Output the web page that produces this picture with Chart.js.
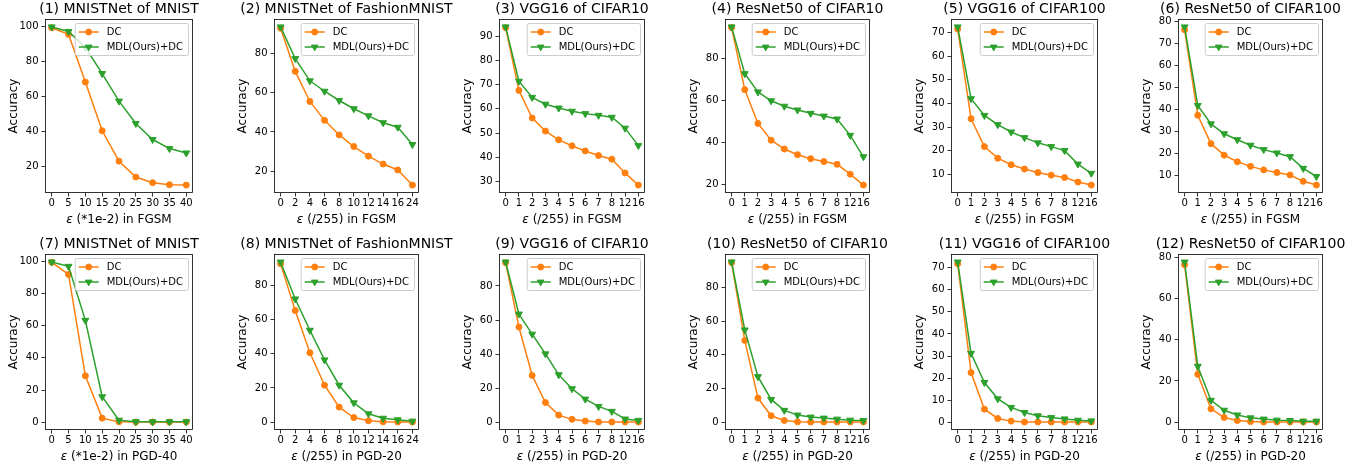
<!DOCTYPE html>
<html>
<head>
<meta charset="utf-8">
<script src="https://cdn.jsdelivr.net/npm/chart.js@4.4.1/dist/chart.umd.min.js"></script>
<style>
  body { margin: 0; background: #fff; width: 1367px; height: 470px; position: relative; overflow: hidden; }
  canvas { position: absolute; }
</style>
</head>
<body>
<script>
// x tick labels
var mnistEps  = ['0','5','10','15','20','25','30','35','40'];
var fmnistEps = ['0','2','4','6','8','10','12','14','16','24'];
var cifarEps  = ['0','1','2','3','4','5','6','7','8','12','16'];

// FGSM row
var p1DC  = [99.2, 95.4, 68.1, 40.2, 22.8, 13.7, 10.5, 9.3, 9.1];
var p1MDL = [99.7, 97.1, 88.0, 73.0, 57.2, 44.4, 35.2, 30.0, 27.5];
var p2DC  = [92.7, 70.8, 55.5, 45.9, 38.5, 32.6, 27.7, 23.7, 20.7, 13.0];
var p2MDL = [93.4, 77.3, 66.0, 60.7, 56.0, 51.8, 48.2, 44.7, 42.4, 33.6];
var p3DC  = [93.5, 67.6, 56.2, 50.8, 47.2, 44.7, 42.6, 40.7, 39.2, 33.5, 28.5];
var p3MDL = [93.8, 71.4, 64.7, 61.9, 60.3, 59.0, 58.0, 57.3, 56.5, 52.0, 44.8];
var p4DC  = [94.6, 65.0, 48.9, 40.9, 36.7, 34.0, 32.1, 30.7, 29.4, 24.7, 19.5];
var p4MDL = [94.9, 72.6, 63.9, 59.7, 57.1, 55.3, 53.7, 52.4, 51.0, 43.2, 33.0];
var p5DC  = [71.5, 33.5, 21.7, 16.8, 14.0, 12.2, 10.7, 9.6, 8.6, 6.7, 5.4];
var p5MDL = [72.4, 42.0, 34.9, 31.0, 27.9, 25.5, 23.3, 21.7, 20.0, 14.3, 10.4];
var p6DC  = [76.3, 37.5, 24.6, 19.4, 16.4, 14.3, 12.7, 11.5, 10.4, 7.5, 5.8];
var p6MDL = [77.6, 41.9, 33.6, 29.1, 26.4, 23.9, 21.9, 20.4, 18.7, 13.4, 9.7];

// PGD row
var p7DC   = [99.4, 91.9, 28.8, 2.5, 0.2, 0.1, 0.1, 0.1, 0.1];
var p7MDL  = [99.6, 96.9, 63.3, 15.8, 1.2, 0.3, 0.2, 0.2, 0.2];
var p8DC   = [92.6, 65.2, 40.6, 21.6, 8.8, 2.7, 0.8, 0.2, 0.1, 0.1];
var p8MDL  = [93.6, 72.0, 53.7, 36.4, 21.6, 11.3, 4.9, 2.3, 1.4, 0.6];
var p9DC   = [93.7, 55.9, 27.4, 11.5, 4.1, 1.6, 0.6, 0.1, 0.05, 0.05, 0.05];
var p9MDL  = [94.1, 63.5, 51.7, 40.1, 27.8, 19.6, 13.5, 9.2, 6.3, 1.8, 1.0];
var p10DC  = [94.6, 48.5, 14.3, 3.8, 1.0, 0.2, 0.1, 0.1, 0.1, 0.1, 0.1];
var p10MDL = [95.0, 54.7, 27.0, 13.5, 7.0, 4.2, 3.0, 2.4, 1.8, 1.2, 1.0];
var p11DC  = [71.8, 22.5, 5.9, 1.7, 0.5, 0.1, 0.1, 0.1, 0.1, 0.1, 0.1];
var p11MDL = [72.6, 31.2, 18.0, 10.6, 6.7, 4.4, 2.9, 2.1, 1.5, 0.9, 0.6];
var p12DC  = [76.3, 23.2, 6.5, 2.3, 0.8, 0.3, 0.1, 0.1, 0.1, 0.1, 0.1];
var p12MDL = [77.6, 27.1, 10.6, 5.8, 3.5, 2.1, 1.5, 1.0, 0.8, 0.5, 0.5];

var titles = ['(1) MNISTNet of MNIST','(2) MNISTNet of FashionMNIST','(3) VGG16 of CIFAR10',
  '(4) ResNet50 of CIFAR10','(5) VGG16 of CIFAR100','(6) ResNet50 of CIFAR100',
  '(7) MNISTNet of MNIST','(8) MNISTNet of FashionMNIST','(9) VGG16 of CIFAR10',
  '(10) ResNet50 of CIFAR10','(11) VGG16 of CIFAR100','(12) ResNet50 of CIFAR100'];
var xTitles = [' (*1e-2) in FGSM',' (/255) in FGSM',' (/255) in FGSM',' (/255) in FGSM',' (/255) in FGSM',' (/255) in FGSM',
  ' (*1e-2) in PGD-40',' (/255) in PGD-20',' (/255) in PGD-20',' (/255) in PGD-20',' (/255) in PGD-20',' (/255) in PGD-20'];
var yTickSteps = [20,20,10,20,10,10, 20,20,20,20,10,20];
var epsLabels = [mnistEps,fmnistEps,cifarEps,cifarEps,cifarEps,cifarEps, mnistEps,fmnistEps,cifarEps,cifarEps,cifarEps,cifarEps];
var dcSeries  = [p1DC,p2DC,p3DC,p4DC,p5DC,p6DC,p7DC,p8DC,p9DC,p10DC,p11DC,p12DC];
var mdlSeries = [p1MDL,p2MDL,p3MDL,p4MDL,p5MDL,p6MDL,p7MDL,p8MDL,p9MDL,p10MDL,p11MDL,p12MDL];

// plot box positions on the page
var colLeft  = [45, 274, 499, 725, 951, 1178];
var colRight = [193, 419, 645, 870, 1098, 1323];
var rowTop    = [19, 254];
var rowBottom = [193, 430];
var PAD_L = 45, PAD_R = 35, PAD_T = 19, PAD_B = 36;

var ORANGE = '#ff7f0e', GREEN = '#2ca02c';
var FONT = '"DejaVu Sans", sans-serif';
Chart.defaults.font.family = FONT;
Chart.defaults.color = '#000';

function drawMarker(ctx, style, x, y, color) {
  ctx.fillStyle = color; ctx.strokeStyle = color; ctx.lineWidth = 1;
  ctx.beginPath();
  if (style == 'circle') {
    ctx.arc(x, y, 3, 0, Math.PI * 2);
  } else {
    var r = 3.8;
    ctx.moveTo(x, y + r);
    ctx.lineTo(x - 0.866 * r, y - 0.5 * r);
    ctx.lineTo(x + 0.866 * r, y - 0.5 * r);
    ctx.closePath();
  }
  ctx.fill(); ctx.stroke();
}

var framePlugin = {
  id: 'frame',
  afterDraw: function(chart, args, o) {
    var ctx = chart.ctx, a = chart.chartArea;
    ctx.save();
    ctx.strokeStyle = '#000'; ctx.lineWidth = 0.8;
    ctx.strokeRect(Math.round(a.left) + 0.5, Math.round(a.top) + 0.5, Math.round(a.right - a.left) - 1, Math.round(a.bottom - a.top) - 1);

    var cx = (a.left + a.right) / 2;
    ctx.fillStyle = '#000';
    ctx.textBaseline = 'alphabetic';
    ctx.textAlign = 'center';
    ctx.font = '14px ' + FONT;
    ctx.fillText(o.title, cx, a.top - 6);

    // x label with italic epsilon
    ctx.textAlign = 'left';
    ctx.font = 'italic 12px ' + FONT;
    var w1 = ctx.measureText('ε').width;
    ctx.font = '12px ' + FONT;
    var w2 = ctx.measureText(o.xlab).width;
    var x0 = cx - (w1 + w2) / 2, by = a.bottom + 30;
    ctx.font = 'italic 12px ' + FONT;
    ctx.fillText('ε', x0, by);
    ctx.font = '12px ' + FONT;
    ctx.fillText(o.xlab, x0 + w1, by);

    // y label
    ctx.save();
    ctx.translate(a.left - 31, (a.top + a.bottom) / 2);
    ctx.rotate(-Math.PI / 2);
    ctx.textAlign = 'center'; ctx.textBaseline = 'middle';
    ctx.fillText('Accuracy', 0, 0);
    ctx.restore();

    // legend, upper right inside the box
    var ds = chart.data.datasets;
    ctx.font = '10px ' + FONT;
    var tw = 0;
    ds.forEach(function(d) { tw = Math.max(tw, ctx.measureText(d.label).width); });
    var w = 4 + 20 + 8 + tw + 5, h = 32;
    var lx = a.right - 5 - w, ly = a.top + 4;
    ctx.beginPath();
    ctx.roundRect(lx + 0.5, ly + 0.5, w, h, 2);
    ctx.fillStyle = 'rgba(255,255,255,0.8)'; ctx.fill();
    ctx.strokeStyle = '#cccccc'; ctx.lineWidth = 1; ctx.stroke();
    ds.forEach(function(d, i) {
      var cy = ly + 9 + i * 15;
      ctx.strokeStyle = d.borderColor; ctx.lineWidth = 1.5;
      ctx.beginPath(); ctx.moveTo(lx + 4, cy); ctx.lineTo(lx + 24, cy); ctx.stroke();
      drawMarker(ctx, d.pointStyle, lx + 14, cy, d.borderColor);
      ctx.fillStyle = '#000'; ctx.textAlign = 'left'; ctx.textBaseline = 'middle';
      ctx.fillText(d.label, lx + 32, cy + 0.5);
    });
    ctx.restore();
  }
};

function makePanel(k) {
  var col = k % 6, row = Math.floor(k / 6);
  var L = colLeft[col], R = colRight[col], T = rowTop[row], B = rowBottom[row];
  var cv = document.createElement('canvas');
  cv.width = (R - L) + PAD_L + PAD_R;
  cv.height = (B - T) + PAD_T + PAD_B;
  cv.style.left = (L - PAD_L) + 'px';
  cv.style.top = (T - PAD_T) + 'px';
  document.body.appendChild(cv);

  var labels = epsLabels[k], dc = dcSeries[k], mdl = mdlSeries[k], step = yTickSteps[k];
  var n = labels.length;
  var all = dc.concat(mdl);
  var lo = Math.min.apply(null, all), hi = Math.max.apply(null, all);
  var m = (hi - lo) * 0.05;

  new Chart(cv, {
    type: 'line',
    data: {
      datasets: [{
        label: 'DC',
        data: dc.map(function(v, i) { return {x: i, y: v}; }),
        borderColor: ORANGE, backgroundColor: ORANGE,
        pointBackgroundColor: ORANGE, pointBorderColor: ORANGE,
        borderWidth: 1.5, pointRadius: 3, pointBorderWidth: 1,
        pointStyle: 'circle', order: 1
      }, {
        label: 'MDL(Ours)+DC',
        data: mdl.map(function(v, i) { return {x: i, y: v}; }),
        borderColor: GREEN, backgroundColor: GREEN,
        pointBackgroundColor: GREEN, pointBorderColor: GREEN,
        borderWidth: 1.5, pointRadius: 4, pointBorderWidth: 1,
        pointStyle: 'triangle', pointRotation: 180, order: 0
      }]
    },
    options: {
      responsive: false,
      animation: false,
      events: [],
      layout: { padding: { top: PAD_T, right: PAD_R, left: 0, bottom: 0 } },
      plugins: {
        legend: { display: false },
        tooltip: { enabled: false },
        frame: { title: titles[k], xlab: xTitles[k] }
      },
      scales: {
        x: {
          type: 'linear',
          min: -0.05 * (n - 1), max: 1.05 * (n - 1),
          afterFit: function(s) { s.height = PAD_B; },
          afterBuildTicks: function(s) { s.ticks = labels.map(function(_, i) { return {value: i}; }); },
          ticks: { callback: function(v) { return labels[v]; }, autoSkip: false, maxRotation: 0, minRotation: 0, padding: 1, font: { size: 10 } },
          grid: { drawOnChartArea: false, tickLength: 3.5, color: '#000', lineWidth: 0.8 },
          border: { display: false }
        },
        y: {
          min: lo - m, max: hi + m,
          afterFit: function(s) { s.width = PAD_L; },
          afterBuildTicks: function(s) {
            var t = [];
            for (var v = Math.ceil(s.min / step) * step; v <= s.max + 1e-9; v += step) t.push({value: v});
            s.ticks = t;
          },
          ticks: { callback: function(v) { return String(v); }, padding: 3, font: { size: 10 } },
          grid: { drawOnChartArea: false, tickLength: 3.5, color: '#000', lineWidth: 0.8 },
          border: { display: false }
        }
      }
    },
    plugins: [framePlugin]
  });
}

for (var k = 0; k < 12; k++) makePanel(k);
</script>
</body>
</html>
